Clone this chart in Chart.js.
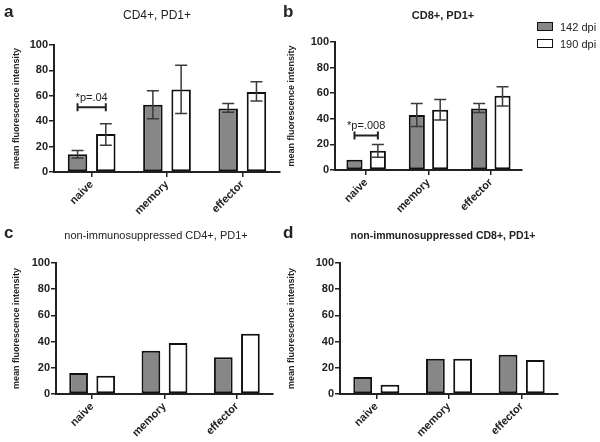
<!DOCTYPE html>
<html>
<head>
<meta charset="utf-8">
<script src="https://cdn.jsdelivr.net/npm/chart.js@4.4.0/dist/chart.umd.min.js"></script>
<style>
  body { margin: 0; background: #fff; }
  #wrap { position: relative; width: 600px; height: 442px; overflow: hidden; font-family: "Liberation Sans", Arial, sans-serif; color: #222; }
  canvas { position: absolute; }
  .lbl { position: absolute; font-weight: bold; font-size: 17px; line-height: 17px; }
  .ttl { position: absolute; white-space: nowrap; transform: translateX(-50%); line-height: 14px; }
  .leg { position: absolute; font-size: 11px; line-height: 12px; }
  .box { position: absolute; width: 14px; height: 7px; border: 1.5px solid #111; }
</style>
</head>
<body>
<div id="wrap">
  <canvas id="cA" width="300" height="220" style="left:0;top:0"></canvas>
  <canvas id="cB" width="320" height="220" style="left:280px;top:0"></canvas>
  <canvas id="cC" width="300" height="222" style="left:0;top:220px"></canvas>
  <canvas id="cD" width="320" height="222" style="left:280px;top:220px"></canvas>

  <div class="lbl" style="left:4px;top:3px">a</div>
  <div class="lbl" style="left:283px;top:3px">b</div>
  <div class="lbl" style="left:4px;top:224px">c</div>
  <div class="lbl" style="left:283px;top:224px">d</div>

  <div class="ttl" style="left:157px;top:8px;font-size:12px">CD4+, PD1+</div>
  <div class="ttl" style="left:443px;top:8px;font-size:11px;font-weight:bold">CD8+, PD1+</div>
  <div class="ttl" style="left:156px;top:228px;font-size:11px">non-immunosuppressed CD4+, PD1+</div>
  <div class="ttl" style="left:443px;top:228px;font-size:10.5px;font-weight:bold">non-immunosuppressed CD8+, PD1+</div>

  <div class="box" style="left:537px;top:22px;background:#878787"></div>
  <div class="leg" style="left:560px;top:21px" id="leg1"></div>
  <div class="box" style="left:537px;top:39px;background:#fff"></div>
  <div class="leg" style="left:560px;top:38px" id="leg2"></div>
</div>

<script>
let categorias = ['naive', 'memory', 'effector'];
let series = ['142 dpi', '190 dpi'];
let yTicks = [0, 20, 40, 60, 80, 100];

// panel a (CD4+, PD1+)
let a142 = [14, 53, 50];
let a190 = [30, 65, 63];
let a142Err = [[11, 17], [42, 64], [47, 54]];
let a190Err = [[21, 38], [46, 84], [56, 71]];

// panel b (CD8+, PD1+)
let b142 = [8, 43, 48];
let b190 = [15, 47, 58];
let b142Err = [null, [34, 52], [45, 52]];
let b190Err = [[10, 20], [39, 55], [50, 65]];

// panel c, d (non-immunosuppressed)
let c142 = [16, 33, 28];
let c190 = [14, 39, 46];
let d142 = [13, 27, 30];
let d190 = [7, 27, 26];

document.getElementById('leg1').textContent = series[0];
document.getElementById('leg2').textContent = series[1];

let tinta = '#222';
let gris = '#878787';

const errorBars = {
    id: 'errorBars',
    afterDatasetsDraw(chart) {
        let ctx = chart.ctx;
        let y = chart.scales.y;
        chart.data.datasets.forEach((ds, i) => {
            if (!ds.errores) return;
            let meta = chart.getDatasetMeta(i);
            ds.errores.forEach((e, j) => {
                if (!e) return;
                let bar = meta.data[j];
                let y1 = y.getPixelForValue(e[0]);
                let y2 = y.getPixelForValue(e[1]);
                let w = 6;
                ctx.save();
                ctx.strokeStyle = '#3a3a3a';
                ctx.lineWidth = 1.5;
                ctx.beginPath();
                ctx.moveTo(bar.x, y1); ctx.lineTo(bar.x, y2);
                ctx.moveTo(bar.x - w, y1); ctx.lineTo(bar.x + w, y1);
                ctx.moveTo(bar.x - w, y2); ctx.lineTo(bar.x + w, y2);
                ctx.stroke();
                ctx.restore();
            });
        });
    }
};

const bracket = {
    id: 'bracket',
    afterDatasetsDraw(chart, args, opts) {
        if (!opts || opts.valor == null) return;
        let ctx = chart.ctx;
        let x1 = chart.getDatasetMeta(0).data[0].x;
        let x2 = chart.getDatasetMeta(1).data[0].x;
        let yy = chart.scales.y.getPixelForValue(opts.valor);
        ctx.save();
        ctx.strokeStyle = tinta;
        ctx.lineWidth = 2;
        ctx.beginPath();
        ctx.moveTo(x1, yy); ctx.lineTo(x2, yy);
        ctx.moveTo(x1, yy - 4); ctx.lineTo(x1, yy + 4);
        ctx.moveTo(x2, yy - 4); ctx.lineTo(x2, yy + 4);
        ctx.stroke();
        ctx.fillStyle = tinta;
        ctx.font = '11px "Liberation Sans", Arial, sans-serif';
        ctx.textAlign = 'center';
        ctx.textBaseline = 'bottom';
        ctx.fillText(opts.texto, (x1 + x2) / 2, yy - 4);
        ctx.restore();
    }
};

function grafico(id, d142, d190, e142, e190, caja, marca) {
    let ctx = document.getElementById(id).getContext('2d');
    return new Chart(ctx, {
        type: 'bar',
        data: {
            labels: categorias,
            datasets: [{
                label: series[0],
                data: d142,
                errores: e142,
                backgroundColor: gris,
                borderColor: '#111',
                borderWidth: 2,
                borderSkipped: false,
                categoryPercentage: 0.75,
                barPercentage: 0.69
            }, {
                label: series[1],
                data: d190,
                errores: e190,
                backgroundColor: '#fff',
                borderColor: '#111',
                borderWidth: 2,
                borderSkipped: false,
                categoryPercentage: 0.75,
                barPercentage: 0.69
            }]
        },
        options: {
            responsive: false,
            animation: false,
            layout: { padding: { left: caja.pl, right: caja.pr, top: caja.pt, bottom: 0 } },
            plugins: {
                legend: { display: false },
                tooltip: { enabled: false },
                bracket: marca
            },
            scales: {
                x: {
                    offset: true,
                    afterFit(s) { s.height = caja.xh; },
                    grid: { display: true, drawOnChartArea: false, offset: false, tickLength: 5, color: tinta, lineWidth: 1.5 },
                    border: { display: true, color: tinta, width: 2 },
                    ticks: {
                        color: tinta, autoSkip: false, minRotation: 45, maxRotation: 45, padding: 1,
                        font: { family: '"Liberation Sans", Arial, sans-serif', size: 11, weight: 'bold' }
                    }
                },
                y: {
                    min: 0,
                    max: 100,
                    afterFit(s) { s.width = caja.yw; },
                    afterBuildTicks(s) { s.ticks = yTicks.map(v => ({ value: v })); },
                    grid: { display: true, drawOnChartArea: false, tickLength: 5, color: tinta, lineWidth: 1.5 },
                    border: { display: true, color: tinta, width: 2 },
                    ticks: {
                        color: tinta, padding: 1,
                        font: { family: '"Liberation Sans", Arial, sans-serif', size: 11, weight: 'bold' }
                    },
                    title: {
                        display: true,
                        text: 'mean fluorescence intensity',
                        color: tinta,
                        padding: { top: 0, bottom: 0 },
                        font: { family: '"Liberation Sans", Arial, sans-serif', size: 9, weight: 'bold' }
                    }
                }
            }
        },
        plugins: [errorBars, bracket]
    });
}

grafico('cA', a142, a190, a142Err, a190Err, { pl: 11, yw: 43, pr: 20, pt: 45, xh: 48 }, { valor: 51, texto: '*p=.04' });
grafico('cB', b142, b190, b142Err, b190Err, { pl: 6, yw: 49, pr: 78, pt: 42, xh: 50 }, { valor: 27, texto: '*p=.008' });
grafico('cC', c142, c190, null, null, { pl: 11, yw: 45, pr: 27, pt: 43, xh: 48 }, null);
grafico('cD', d142, d190, null, null, { pl: 6, yw: 54, pr: 42, pt: 43, xh: 48 }, null);
</script>
</body>
</html>
